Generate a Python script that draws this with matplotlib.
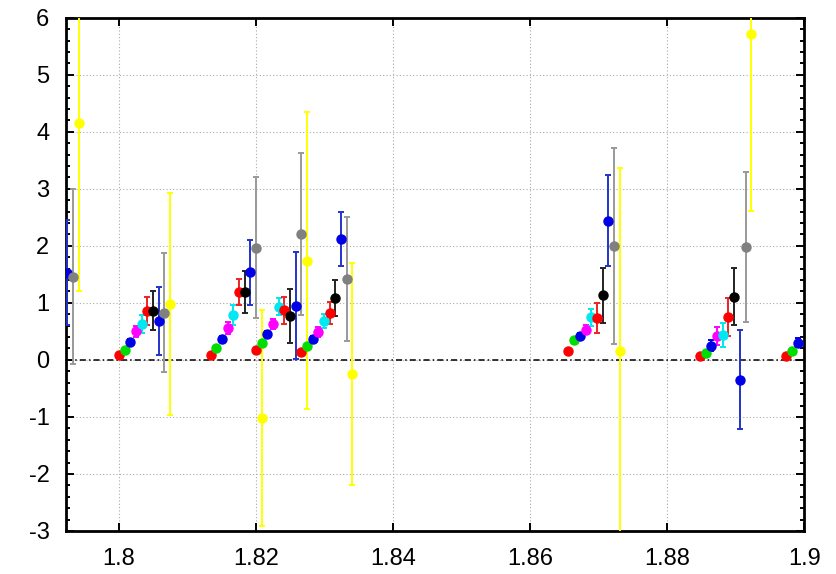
import numpy as np
import matplotlib
matplotlib.use("Agg")
import matplotlib.pyplot as plt
from matplotlib.ticker import MultipleLocator, FuncFormatter

nan = np.nan

# x of the first point in each cluster; the rest step by DX
GROUP_X = [1.7867, 1.8000, 1.8134, 1.8200, 1.8266, 1.8656, 1.8848, 1.8974]
DX = 0.00083

COLORS = ["#ff0000", "#00dd00", "#0000e6", "#ff00ff", "#00e8f0",
          "#ff0000", "#000000", "#0000e6", "#808080", "#ffff00"]

VALS = [
    [nan, 0.09, 0.09, 0.18, 0.14, 0.16, 0.06, 0.06],
    [nan, 0.18, 0.21, 0.30, 0.25, 0.35, 0.12, 0.16],
    [nan, 0.31, 0.37, 0.45, 0.37, 0.42, 0.25, 0.30],
    [nan, 0.50, 0.56, 0.63, 0.49, 0.53, 0.42, nan],
    [nan, 0.63, 0.79, 0.93, 0.68, 0.75, 0.44, nan],
    [nan, 0.86, 1.19, 0.87, 0.82, 0.74, 0.75, nan],
    [nan, 0.86, 1.19, 0.77, 1.09, 1.13, 1.11, nan],
    [1.53, 0.68, 1.54, 0.95, 2.12, 2.44, -0.35, nan],
    [1.46, 0.83, 1.97, 2.21, 1.42, 2.00, 1.98, nan],
    [4.15, 0.98, -1.02, 1.74, -0.25, 0.16, 5.72, nan],
]

ERRS = [
    None,
    None,
    [nan, 0.05, 0.05, 0.05, 0.05, 0.05, 0.10, 0.08],
    [nan, 0.09, 0.10, 0.08, 0.08, 0.08, 0.15, nan],
    [nan, 0.16, 0.17, 0.15, 0.12, 0.15, 0.21, nan],
    [nan, 0.25, 0.23, 0.24, 0.19, 0.26, 0.33, nan],
    [nan, 0.34, 0.37, 0.47, 0.32, 0.48, 0.50, nan],
    [0.92, 0.60, 0.57, 0.94, 0.47, 0.80, 0.87, nan],
    [1.53, 1.05, 1.24, 1.42, 1.08, 1.72, 1.32, nan],
    [2.95, 1.95, 1.90, 2.60, 1.95, 3.20, 3.10, nan],
]

# bar colours: a touch lighter than the dots for blue / grey
ECOLORS = ["#ff0000", "#00dd00", "#0000e6", "#ff00ff", "#00e8f0",
           "#ee2222", "#222222", "#2233cc", "#999999", "#ffff00"]

plt.rcParams["font.family"] = ["Liberation Sans", "DejaVu Sans"]

fig = plt.figure(figsize=(8.36, 5.74), dpi=100)
ax = fig.add_axes([0.079, 0.075, 0.883, 0.894])

gx = np.array(GROUP_X)
for i, (col, ecol, v, e) in enumerate(zip(COLORS, ECOLORS, VALS, ERRS)):
    x = gx + i * DX
    y = np.array(v)
    ax.errorbar(x, y, yerr=None if e is None else np.array(e), fmt="o", color=col,
                ecolor=ecol, ms=6.5, mec=col, elinewidth=1.4, capsize=2.5,
                capthick=1.4, zorder=3)

ax.axhline(0, color="black", lw=1.1, ls=(0, (4, 2, 1, 2)), zorder=2)

ax.set_xlim(1.7923, 1.9)
ax.set_ylim(-3, 6)
ax.xaxis.set_major_locator(MultipleLocator(0.02))
ax.yaxis.set_major_locator(MultipleLocator(1))
ax.yaxis.set_minor_locator(MultipleLocator(0.2))
ax.xaxis.set_major_formatter(FuncFormatter(lambda v, p: f"{v:g}"))
ax.yaxis.set_major_formatter(FuncFormatter(lambda v, p: f"{v:g}"))

ax.grid(True, which="major", color="#aaaaaa", lw=0.8, ls=(0, (1, 2)), zorder=1)
ax.tick_params(which="both", direction="in", top=True, right=True, width=1.4,
               labelsize=17)
ax.tick_params(which="major", length=6, pad=12)
ax.tick_params(which="minor", length=3)
ax.tick_params(axis="x", which="minor", length=0)
for s in ax.spines.values():
    s.set_linewidth(2)

fig.savefig("out.png", dpi=100)
